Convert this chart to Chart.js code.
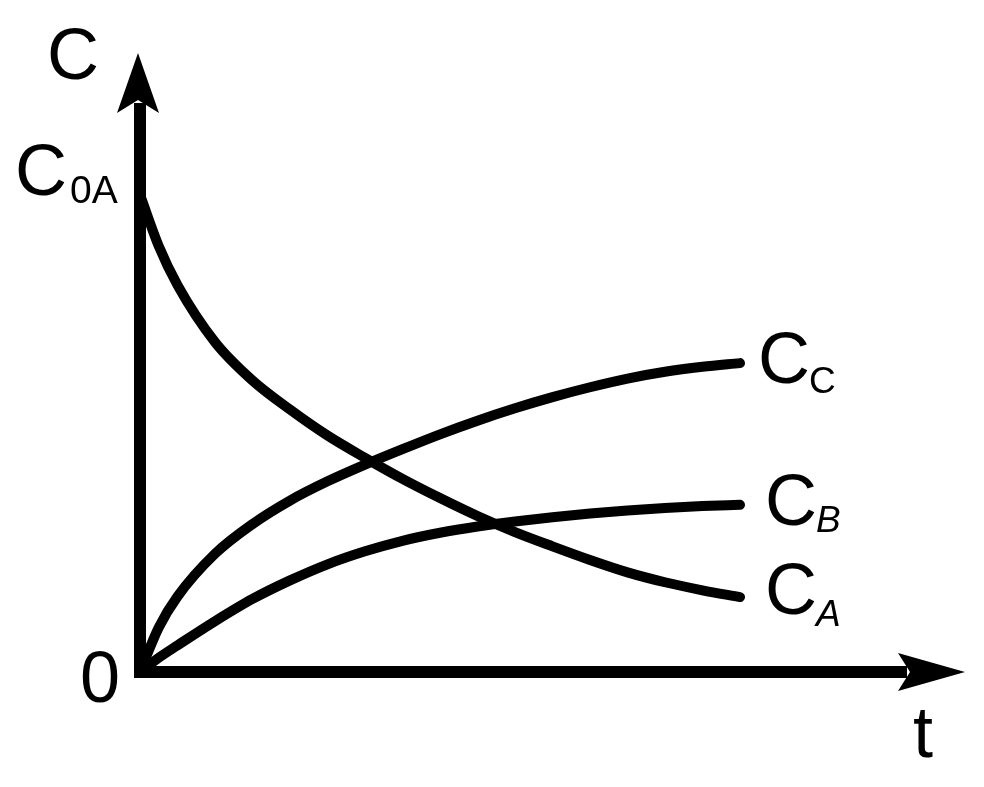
<!DOCTYPE html>
<html>
<head>
<meta charset="utf-8">
<script src="https://cdn.jsdelivr.net/npm/chart.js@4/dist/chart.umd.min.js"></script>
<style>
  html, body { margin: 0; padding: 0; background: #fff; }
  #wrap { width: 984px; height: 787px; position: relative; }
</style>
</head>
<body>
<div id="wrap"><canvas id="kinetics"></canvas></div>
<script>
// time points (arbitrary units) and concentrations
const times = [0, 0.25, 0.5, 1, 1.5, 2, 2.5, 3, 3.5, 4, 4.5, 5, 5.5, 6, 6.5, 7, 7.5, 8]
const concA = [7.71, 6.88, 6.25, 5.33, 4.71, 4.24, 3.82, 3.46, 3.12, 2.81, 2.52, 2.26, 2.03, 1.81, 1.61, 1.45, 1.32, 1.21]
const concB = [0, 0.23, 0.43, 0.82, 1.18, 1.48, 1.74, 1.95, 2.12, 2.25, 2.35, 2.43, 2.50, 2.56, 2.61, 2.65, 2.68, 2.70]
const concC = [0, 0.72, 1.22, 1.91, 2.39, 2.77, 3.08, 3.35, 3.60, 3.84, 4.06, 4.26, 4.44, 4.60, 4.74, 4.85, 4.93, 4.99]
const seriesSubs = ['A', 'B', 'C']
const axisLabels = { y: 'C', x: 't', origin: '0', start: 'C', startSub: '0A' }

const FONT = '"Liberation Sans", Arial, sans-serif'

function pts(vals) {
    return times.map((t, i) => ({ x: t, y: vals[i] }))
}

/* axes with arrow heads and all the lettering */
const axesPlugin = {
    id: 'axesPlugin',
    afterDatasetsDraw(chart) {
        const ctx = chart.ctx
        const a = chart.chartArea
        const xs = chart.scales.x, ys = chart.scales.y
        const ox = xs.getPixelForValue(0), oy = ys.getPixelForValue(0)
        ctx.save()
        ctx.fillStyle = '#000'
        ctx.strokeStyle = '#000'
        ctx.lineWidth = 12
        ctx.lineCap = 'butt'
        // y axis
        ctx.beginPath()
        ctx.moveTo(ox, oy + 6)
        ctx.lineTo(ox, a.top + 50)
        ctx.stroke()
        // x axis
        ctx.beginPath()
        ctx.moveTo(ox - 6, oy)
        ctx.lineTo(a.right - 58, oy)
        ctx.stroke()
        // y arrow
        ctx.beginPath()
        ctx.moveTo(ox - 2, a.top)
        ctx.lineTo(ox + 19, a.top + 60)
        ctx.lineTo(ox - 2, a.top + 47)
        ctx.lineTo(ox - 23, a.top + 60)
        ctx.closePath()
        ctx.fill()
        // x arrow
        ctx.beginPath()
        ctx.moveTo(a.right, oy)
        ctx.lineTo(a.right - 67, oy - 19)
        ctx.lineTo(a.right - 55, oy)
        ctx.lineTo(a.right - 67, oy + 19)
        ctx.closePath()
        ctx.fill()

        ctx.textBaseline = 'alphabetic'
        ctx.textAlign = 'left'
        ctx.font = '72px ' + FONT
        ctx.fillText(axisLabels.y, ox - 93, a.top + 26)
        ctx.fillText(axisLabels.x, a.right - 52, oy + 85)
        ctx.textAlign = 'right'
        ctx.fillText(axisLabels.origin, ox - 20, oy + 30)
        ctx.textAlign = 'left'
        // C0A at the starting value of A
        const y0 = ys.getPixelForValue(concA[0])
        ctx.fillText(axisLabels.start, ox - 125, y0)
        ctx.font = '39px ' + FONT
        ctx.fillText(axisLabels.startSub, ox - 70, y0 + 8)

        // series labels at the end of each curve
        const offs = [{ dx: 25, dy: 17, sdy: 12, it: true }, { dx: 25, dy: 20, sdy: 7, it: true }, { dx: 18, dy: 20, sdy: 10, it: false }]
        chart.data.datasets.forEach((ds, i) => {
            const last = ds.data[ds.data.length - 1]
            const px = xs.getPixelForValue(last.x), py = ys.getPixelForValue(last.y)
            const o = offs[i]
            ctx.font = '72px ' + FONT
            ctx.fillText('C', px + o.dx, py + o.dy)
            ctx.font = (o.it ? 'italic ' : '') + '37px ' + FONT
            ctx.fillText(seriesSubs[i], px + o.dx + 51, py + o.dy + o.sdy)
        })
        ctx.restore()
    }
}

const lineStyle = {
    borderColor: '#000',
    borderWidth: 10,
    pointRadius: 0,
    fill: false,
    cubicInterpolationMode: 'monotone',
    borderCapStyle: 'round',
    borderJoinStyle: 'round'
}

let chart = new Chart(document.getElementById('kinetics').getContext('2d'), {
    type: 'line',
    data: {
        datasets: [
            Object.assign({ label: 'CA', data: pts(concA) }, lineStyle),
            Object.assign({ label: 'CB', data: pts(concB) }, lineStyle),
            Object.assign({ label: 'CC', data: pts(concC) }, lineStyle)
        ]
    },
    options: {
        responsive: true,
        maintainAspectRatio: false,
        animation: false,
        devicePixelRatio: 1,
        layout: { padding: { left: 140, right: 19, top: 53, bottom: 115 } },
        plugins: { legend: { display: false }, tooltip: { enabled: false } },
        scales: {
            x: { type: 'linear', min: 0, max: 11, display: false },
            y: { type: 'linear', min: 0, max: 10, display: false }
        }
    },
    plugins: [axesPlugin]
})
</script>
</body>
</html>
